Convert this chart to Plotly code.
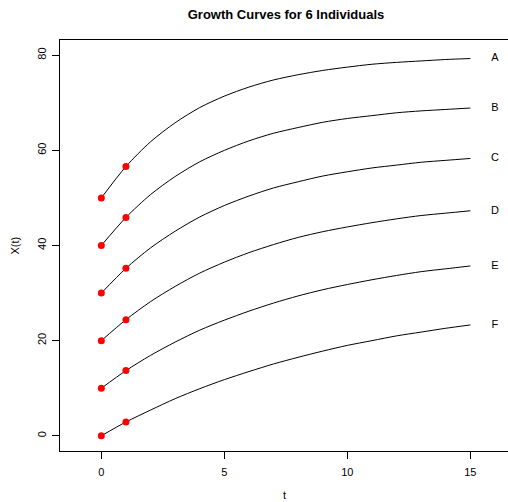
import plotly.graph_objects as go

# Time points
t = [0, 1, 2, 3, 4, 5, 6, 7, 8, 9, 10, 11, 12, 13, 14, 15]

# Curve values
curve_A = [50.0, 56.6, 61.8, 65.8, 69.0, 71.4, 73.3, 74.8, 75.9, 76.8, 77.5, 78.1, 78.5, 78.8, 79.1, 79.3]
curve_B = [40.0, 45.9, 50.7, 54.5, 57.6, 60.0, 62.0, 63.6, 64.8, 65.9, 66.7, 67.3, 67.9, 68.3, 68.6, 68.9]
curve_C = [30.0, 35.2, 39.5, 43.0, 46.0, 48.4, 50.4, 52.1, 53.4, 54.6, 55.5, 56.3, 56.9, 57.5, 57.9, 58.3]
curve_D = [20.0, 24.4, 28.2, 31.4, 34.2, 36.5, 38.5, 40.2, 41.7, 42.9, 43.9, 44.8, 45.6, 46.3, 46.8, 47.3]
curve_E = [10.0, 13.7, 16.9, 19.7, 22.2, 24.3, 26.2, 27.9, 29.4, 30.7, 31.8, 32.8, 33.7, 34.5, 35.1, 35.7]
curve_F = [0.0, 2.9, 5.4, 7.8, 9.9, 11.8, 13.5, 15.1, 16.5, 17.8, 19.0, 20.0, 21.0, 21.8, 22.6, 23.3]

labels = ["A", "B", "C", "D", "E", "F"]
curves = [curve_A, curve_B, curve_C, curve_D, curve_E, curve_F]

# Observed points (t = 0 and t = 1)
obs_t = [0, 1]
label_t = 16

x_ticks = [0, 5, 10, 15]
y_ticks = [0, 20, 40, 60, 80]

FONT = "Liberation Sans, Arial, Helvetica, sans-serif"

fig = go.Figure()

for name, vals in zip(labels, curves):
    fig.add_trace(go.Scatter(
        x=t, y=vals, mode="lines",
        line=dict(color="black", width=1, shape="spline", smoothing=0.8),
        showlegend=False, hoverinfo="skip"))

for name, vals in zip(labels, curves):
    fig.add_trace(go.Scatter(
        x=obs_t, y=[vals[t.index(v)] for v in obs_t], mode="markers",
        marker=dict(color="red", size=7, line=dict(width=0)),
        showlegend=False))

for name, vals in zip(labels, curves):
    fig.add_trace(go.Scatter(
        x=[label_t], y=[vals[-1]], mode="text", text=[name],
        textfont=dict(family=FONT, size=11, color="black"),
        textposition="middle center", cliponaxis=False,
        showlegend=False, hoverinfo="skip"))

fig.update_layout(
    width=508, height=502,
    margin=dict(l=60, r=0, t=40, b=51, autoexpand=False),
    paper_bgcolor="white", plot_bgcolor="white",
    font=dict(family=FONT, size=11, color="black"),
    title=dict(text="<b>Growth Curves for 6 Individuals</b>",
               x=286 / 508, xref="container", xanchor="center",
               y=1 - 14 / 502, yref="container", yanchor="middle",
               font=dict(family=FONT, size=13, color="black")),
    annotations=[
        dict(text="t", xref="paper", yref="paper", x=0.5, y=0,
             xanchor="center", yanchor="middle", yshift=-44, showarrow=False,
             font=dict(family=FONT, size=11, color="black")),
        dict(text="X(t)", xref="paper", yref="paper", x=0, y=0.5,
             xanchor="center", yanchor="middle", xshift=-46, textangle=-90,
             showarrow=False, font=dict(family=FONT, size=11, color="black")),
    ],
)

fig.update_xaxes(
    range=[-1.68, 16.53], tickvals=x_ticks, ticktext=[str(v) for v in x_ticks],
    showgrid=False, zeroline=False, automargin=False,
    showline=True, linecolor="black", linewidth=1, mirror=True,
    ticks="outside", ticklen=7, tickcolor="black", tickwidth=1,
    ticklabelstandoff=4,
    tickfont=dict(family=FONT, size=11),
)

fig.update_yaxes(
    range=[-3.2, 83.2], tickvals=y_ticks, ticktext=[str(v) for v in y_ticks],
    showgrid=False, zeroline=False, automargin=False,
    showline=True, linecolor="black", linewidth=1, mirror=False,
    ticks="outside", ticklen=7, tickcolor="black", tickwidth=1,
    ticklabelstandoff=2,
    tickangle=-90, tickfont=dict(family=FONT, size=11),
)

fig.write_html(
    "out.html",
    config={"displayModeBar": False},
    post_script="document.body.style.margin='0';document.body.style.overflow='hidden';",
)
